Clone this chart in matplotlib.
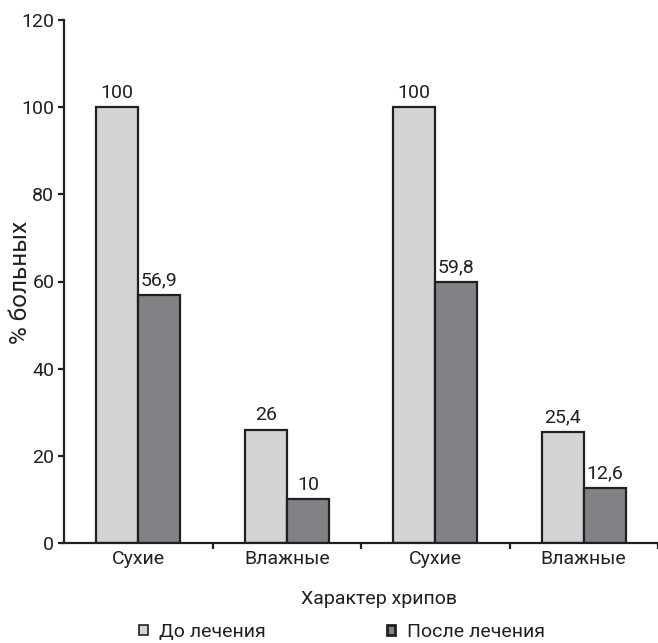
import matplotlib
matplotlib.use("Agg")
import matplotlib.pyplot as plt
from matplotlib.patches import Patch
import numpy as np

plt.rcParams['font.family'] = ['Roboto', 'DejaVu Sans']

categories = ["Сухие", "Влажные", "Сухие", "Влажные"]
before = [100, 26, 100, 25.4]
after = [56.9, 10, 59.8, 12.6]
before_labels = ["100", "26", "100", "25,4"]
after_labels = ["56,9", "10", "59,8", "12,6"]
series_names = ["До лечения", "После лечения"]
yticks = [0, 20, 40, 60, 80, 100, 120]

ink = "#231f20"
light = "#d3d4d6"
dark = "#808285"
fs = 14

fig = plt.figure(figsize=(6.58, 6.43), dpi=100)
ax = fig.add_axes([64 / 658, 1 - 543 / 643, 1 - 64 / 658, (543 - 20) / 643])

x = np.arange(len(categories))
w = 0.284
b1 = ax.bar(x - w / 2, before, w, color=light, edgecolor=ink, linewidth=1.6, zorder=3)
b2 = ax.bar(x + w / 2, after, w, color=dark, edgecolor=ink, linewidth=1.6, zorder=3)

for bars, labels in ((b1, before_labels), (b2, after_labels)):
    for rect, lab in zip(bars, labels):
        ax.annotate(lab, (rect.get_x() + rect.get_width() / 2, rect.get_height()),
                    xytext=(0, 4), textcoords="offset points",
                    ha="center", va="bottom", fontsize=fs, color=ink)

ax.set_xlim(-0.5, -0.5 + 594 / 153)
ax.set_ylim(0, 120)
ax.set_yticks(yticks)
ax.set_yticklabels([str(v) for v in yticks], fontsize=fs, color=ink)

# boundary ticks between groups, labels at group centres
ax.set_xticks(np.arange(len(categories)) + 0.5)
ax.set_xticklabels([])
ax.set_xticks(x, minor=True)
ax.set_xticklabels(categories, minor=True, fontsize=fs, color=ink)
ax.tick_params(axis="x", which="minor", length=0, pad=5)
ax.tick_params(axis="x", which="major", length=4, width=1.6, color=ink, direction="out")
ax.tick_params(axis="y", length=4, width=1.6, color=ink, direction="out", pad=3)

for side in ("top", "right"):
    ax.spines[side].set_visible(False)
for side in ("left", "bottom"):
    ax.spines[side].set_color(ink)
    ax.spines[side].set_linewidth(1.6)
ax.spines["bottom"].set_zorder(4)

fig.text(379 / 658, 1 - 599 / 643, "Характер хрипов", ha="center", va="center",
         fontsize=fs, color=ink)
fig.text(21 / 658, 1 - 282 / 643, "% больных", ha="center", va="center",
         rotation=90, fontsize=17.5, color=ink)

handles = [Patch(facecolor=light, edgecolor=ink, linewidth=1.2),
           Patch(facecolor=dark, edgecolor=ink, linewidth=2.0)]
fig.legend(handles, series_names, loc="center", bbox_to_anchor=(342 / 658, 1 - 632 / 643),
           ncol=2, frameon=False, fontsize=fs, handlelength=0.45, handleheight=0.45,
           handletextpad=0.6, columnspacing=6.2, labelcolor=ink, borderpad=0)

fig.savefig("out.png", dpi=100)
